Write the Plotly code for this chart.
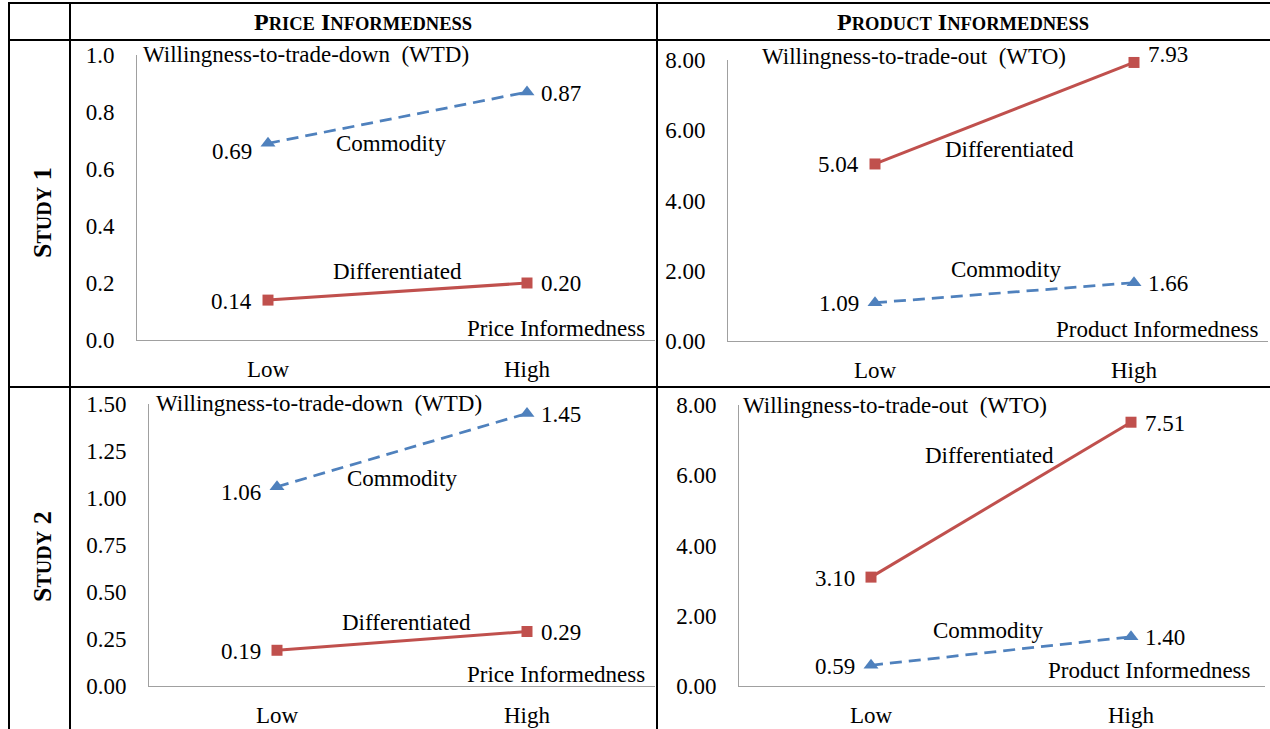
import plotly.graph_objects as go

# ---------------- data ----------------
levels = ["Low", "High"]

s1_wtd_commodity = [0.69, 0.87]
s1_wtd_differentiated = [0.14, 0.20]
s1_wto_differentiated = [5.04, 7.93]
s1_wto_commodity = [1.09, 1.66]

s2_wtd_commodity = [1.06, 1.45]
s2_wtd_differentiated = [0.19, 0.29]
s2_wto_differentiated = [3.10, 7.51]
s2_wto_commodity = [0.59, 1.40]

wtd_ticks_s1 = [0.0, 0.2, 0.4, 0.6, 0.8, 1.0]
wtd_ticks_s2 = [0.0, 0.25, 0.5, 0.75, 1.0, 1.25, 1.5]
wto_ticks = [0.0, 2.0, 4.0, 6.0, 8.0]

# ---------------- style ----------------
W, H = 1270, 729
FONT = "Liberation Serif, Times New Roman, serif"
RED = "#C0504D"
BLUE = "#4F81BD"
AXIS_GRAY = "#A0A0A0"
FS = 23


def px_x(x):
    return x / W


def px_y(y):
    return 1 - y / H


fig = go.Figure()

panels = {
    "TL": dict(xl=137, xr=655, yt=55, yb=340, lo=268, hi=527, ymax=1.0, ticks=wtd_ticks_s1, fmt=".1f"),
    "TR": dict(xl=728, xr=1268, yt=60, yb=341, lo=875, hi=1134, ymax=8.0, ticks=wto_ticks, fmt=".2f"),
    "BL": dict(xl=149, xr=655, yt=404, yb=686, lo=277, hi=527, ymax=1.5, ticks=wtd_ticks_s2, fmt=".2f"),
    "BR": dict(xl=739, xr=1265, yt=405, yb=686, lo=871, hi=1131, ymax=8.0, ticks=wto_ticks, fmt=".2f"),
}
order = ["TL", "TR", "BL", "BR"]

layout_axes = {}
for i, key in enumerate(order):
    p = panels[key]
    n = "" if i == 0 else str(i + 1)
    span = p["hi"] - p["lo"]
    xr0 = -(p["lo"] - p["xl"]) / span
    xr1 = 1 + (p["xr"] - p["hi"]) / span
    layout_axes["xaxis" + n] = dict(
        domain=[px_x(p["xl"]), px_x(p["xr"])],
        anchor="y" + n, range=[xr0, xr1],
        tickvals=[0, 1], ticktext=levels,
        showgrid=False, zeroline=False, showline=True,
        linecolor=AXIS_GRAY, linewidth=1, ticks="",
        ticklabelstandoff=8, automargin=False,
        tickfont=dict(family=FONT, size=FS, color="black"),
        fixedrange=True,
    )
    layout_axes["yaxis" + n] = dict(
        domain=[px_y(p["yb"]), px_y(p["yt"])],
        anchor="x" + n, range=[0, p["ymax"]],
        tickvals=p["ticks"], tickformat=p["fmt"],
        showgrid=False, zeroline=False, showline=True,
        linecolor=AXIS_GRAY, linewidth=1, ticks="",
        ticklabelstandoff=17, automargin=False,
        tickfont=dict(family=FONT, size=FS, color="black"),
        fixedrange=True,
    )

series = {
    "TL": [(s1_wtd_commodity, "Commodity", BLUE), (s1_wtd_differentiated, "Differentiated", RED)],
    "TR": [(s1_wto_differentiated, "Differentiated", RED), (s1_wto_commodity, "Commodity", BLUE)],
    "BL": [(s2_wtd_commodity, "Commodity", BLUE), (s2_wtd_differentiated, "Differentiated", RED)],
    "BR": [(s2_wto_differentiated, "Differentiated", RED), (s2_wto_commodity, "Commodity", BLUE)],
}

# vertical nudges of value labels (pixels, positive = down): (left label, right label)
label_nudge = {
    ("TL", "Commodity"): (8, 1),
    ("TR", "Differentiated"): (1, -8),
    ("BL", "Commodity"): (6, 1),
}

annotations = []
for i, key in enumerate(order):
    n = "" if i == 0 else str(i + 1)
    for vals, name, color in series[key]:
        is_blue = color == BLUE
        fig.add_trace(go.Scatter(
            x=[0, 1], y=vals, mode="lines+markers", name=name,
            xaxis="x" + n, yaxis="y" + n, showlegend=False, cliponaxis=False,
            hoverinfo="skip",
            line=dict(color=color, width=3 if not is_blue else 2.75,
                      dash="12px,7px" if is_blue else "solid"),
            marker=dict(symbol="triangle-up" if is_blue else "square",
                        size=13 if is_blue else 11, color=color),
        ))
        nl, nr = label_nudge.get((key, name), (1, 1))
        annotations.append(dict(x=0, y=vals[0], xref="x" + n, yref="y" + n,
                                text=f"{vals[0]:.2f}", showarrow=False,
                                xanchor="right", xshift=-14, yshift=-nl,
                                font=dict(family=FONT, size=FS, color="black")))
        annotations.append(dict(x=1, y=vals[1], xref="x" + n, yref="y" + n,
                                text=f"{vals[1]:.2f}", showarrow=False,
                                xanchor="left", xshift=12, yshift=-nr,
                                font=dict(family=FONT, size=FS, color="black")))


def txt(text, x, y, xanchor="center", size=FS, **kw):
    d = dict(x=px_x(x), y=px_y(y), xref="paper", yref="paper", text=text,
             showarrow=False, xanchor=xanchor, yanchor="middle",
             font=dict(family=FONT, size=size, color="black"))
    d.update(kw)
    annotations.append(d)


# titles inside charts
txt("Willingness-to-trade-down&nbsp; (WTD)", 141, 55, "left")
txt("Willingness-to-trade-out&nbsp; (WTO)", 760, 57, "left")
txt("Willingness-to-trade-down&nbsp; (WTD)", 154, 404, "left")
txt("Willingness-to-trade-out&nbsp; (WTO)", 741, 405, "left")

txt("Price Informedness", 647, 328, "right")
txt("Product Informedness", 1261, 330, "right")
txt("Price Informedness", 647, 674, "right")
txt("Product Informedness", 1253, 670, "right")

# series names
txt("Commodity", 391, 143)
txt("Differentiated", 397, 271)
txt("Differentiated", 1009, 150)
txt("Commodity", 1006, 269)
txt("Commodity", 402, 478)
txt("Differentiated", 407, 622)
txt("Differentiated", 989, 455)
txt("Commodity", 988, 630)

# table headers (small caps emulation)
sc = "<span style='font-size:{}px'>{}</span>"
txt("<b>P" + sc.format(18.5, "RICE") + " I" + sc.format(18.5, "NFORMEDNESS") + "</b>", 363, 22, size=24)
txt("<b>P" + sc.format(18.5, "RODUCT") + " I" + sc.format(18.5, "NFORMEDNESS") + "</b>", 963, 22, size=24)
txt("<b>S" + sc.format(20, "TUDY") + " 1</b>", 42, 213, size=26, textangle=-90)
txt("<b>S" + sc.format(20, "TUDY") + " 2</b>", 42, 557, size=26, textangle=-90)

# table lines
shapes = []


def hline(x0, x1, y):
    shapes.append(dict(type="line", xref="paper", yref="paper",
                       x0=px_x(x0), x1=px_x(x1), y0=px_y(y), y1=px_y(y),
                       line=dict(color="black", width=2)))


def vline(x, y0, y1):
    shapes.append(dict(type="line", xref="paper", yref="paper",
                       x0=px_x(x), x1=px_x(x), y0=px_y(y0), y1=px_y(y1),
                       line=dict(color="black", width=2)))


hline(8, 1270, 3)
hline(8, 1270, 40)
hline(8, 1270, 387)
vline(9, 2, 729)
vline(70, 2, 729)
vline(657, 2, 729)

fig.update_layout(
    template="none",
    width=W, height=H,
    margin=dict(l=0, r=0, t=0, b=0, pad=0),
    paper_bgcolor="white", plot_bgcolor="white",
    font=dict(family=FONT, size=FS, color="black"),
    annotations=annotations, shapes=shapes,
    hovermode=False,
    **layout_axes,
)

fig.write_html(
    "out.html",
    config={"displayModeBar": False, "staticPlot": True},
    post_script="document.body.style.margin='0';document.body.style.overflow='hidden';",
)
